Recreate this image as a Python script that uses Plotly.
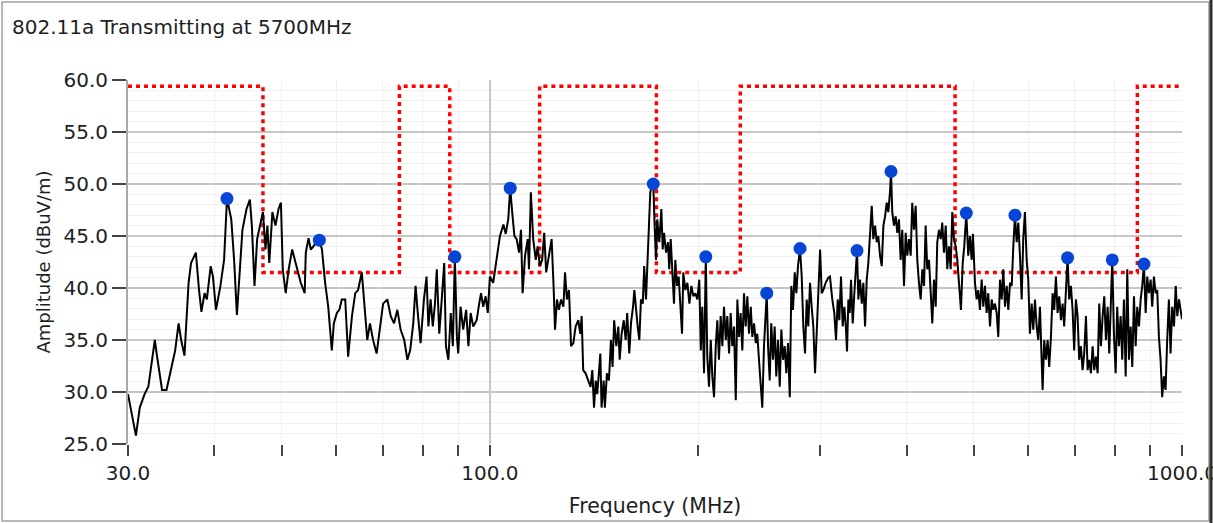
"""Radiated spurious emissions scan, 30 MHz - 1 GHz, 802.11a transmitter at 5700 MHz.

Black trace = measured amplitude, red dotted = limit line, blue dots = marked peaks.
"""
import math

import plotly.graph_objects as go

# ============================================================================
# DATA
# ============================================================================

TITLE = "802.11a Transmitting at 5700MHz"

FREQ_MHZ = [
    # 30 - 54 MHz
    30.0, 30.8, 31.2, 31.7, 32.1, 32.5, 32.8, 33.0, 33.3, 33.6,
    34.1, 34.5, 35.1, 35.5, 35.8, 36.2, 36.5, 36.7, 37.0, 37.6,
    38.0, 38.3, 38.7, 39.0, 39.5, 39.8, 40.2, 40.8, 41.3, 41.5,
    41.7, 42.3, 42.7, 43.1, 43.5, 43.9, 44.5, 45.0, 45.3, 45.7,
    46.1, 46.6, 47.0, 47.4, 47.7, 48.0, 48.5, 49.0, 49.5, 49.9,
    50.2, 50.7, 51.2, 51.8, 52.4, 53.3, 54.0,
    # 54 - 97 MHz
    54.2, 54.7, 55.1, 55.6, 56.2, 56.7, 57.2, 57.8, 58.4, 59.1,
    59.5, 60.1, 60.6, 61.1, 61.8, 62.4, 63.2, 63.9, 64.5, 65.3,
    66.0, 66.5, 67.1, 67.8, 68.6, 69.4, 70.1, 71.1, 71.9, 72.7,
    73.5, 74.3, 75.2, 76.0, 76.7, 77.5, 78.1, 78.6, 79.4, 80.3,
    81.0, 81.5, 82.1, 82.7, 83.3, 83.8, 84.5, 85.2, 85.9, 86.4,
    87.1, 87.8, 88.4, 89.0, 89.6, 90.0, 90.7, 91.5, 92.4, 93.1,
    93.8, 94.6, 95.7, 96.5,
    # 97 - 171 MHz
    97.1, 97.8, 98.6, 99.3, 100.0, 101.1, 102.3, 103.4, 104.6, 105.4,
    106.3, 107.0, 107.7, 108.5, 109.3, 110.2, 110.9, 111.5, 112.4, 113.4,
    113.9, 114.6, 115.5, 116.5, 117.2, 118.1, 119.0, 119.8, 120.6, 121.7,
    122.8, 123.6, 124.2, 125.0, 125.8, 126.7, 127.7, 128.4, 129.2, 130.1,
    131.0, 132.0, 133.0, 134.2, 135.1, 135.7, 136.4, 137.5, 138.7, 139.8,
    140.6, 141.4, 142.2, 142.9, 143.7, 144.4, 145.0, 146.0, 146.6, 147.6,
    148.6, 149.6, 150.4, 151.2, 152.3, 153.3, 154.0, 155.0, 156.1, 157.1,
    157.9, 159.0, 159.9, 161.0, 161.7, 162.6, 163.5, 164.4, 165.3, 166.3,
    167.1, 168.1, 169.0, 169.8, 170.5,
    # 171 - 308 MHz
    171.3, 172.2, 173.0, 173.8, 174.5, 175.7, 176.9, 177.7, 178.5, 179.7,
    180.9, 181.6, 182.5, 183.5, 184.5, 185.3, 186.4, 187.4, 188.4, 189.5,
    190.3, 191.6, 192.9, 194.2, 195.5, 196.8, 198.1, 199.4, 200.7, 201.7,
    202.7, 203.9, 205.1, 206.1, 207.3, 208.5, 209.6, 210.8, 212.0, 213.1,
    214.3, 215.5, 216.7, 217.9, 219.2, 220.3, 221.6, 222.8, 224.0, 225.3,
    226.6, 227.8, 229.1, 230.3, 231.6, 232.9, 234.2, 235.5, 236.8, 238.2,
    239.4, 240.8, 242.2, 243.4, 244.8, 246.2, 247.5, 248.9, 250.3, 251.2,
    252.3, 253.7, 255.0, 256.5, 257.9, 259.3, 260.8, 262.3, 263.7, 265.2,
    266.7, 268.1, 269.6, 271.2, 272.6, 274.1, 275.7, 277.2, 278.7, 280.6,
    282.2, 283.7, 285.3, 286.9, 288.4, 290.1, 291.7, 293.3, 295.0, 296.6,
    298.2, 300.0, 301.6, 303.2, 305.6, 308.3,
    # 310 - 543 MHz
    310.0, 312.4, 314.5, 316.3, 318.1, 319.8, 321.6, 323.4, 325.2, 327.0,
    328.1, 329.6, 331.1, 332.5, 334.4, 336.2, 338.1, 339.2, 340.7, 342.6,
    344.6, 346.4, 348.4, 350.3, 352.2, 354.2, 356.2, 358.1, 360.2, 362.2,
    364.1, 366.2, 368.3, 370.3, 372.4, 374.4, 376.4, 378.5, 379.8, 381.4,
    383.6, 385.8, 387.8, 390.0, 392.2, 394.3, 396.6, 398.8, 400.9, 403.2,
    405.5, 407.6, 410.0, 412.3, 414.5, 416.8, 419.2, 421.5, 423.9, 426.2,
    428.5, 431.0, 433.4, 435.7, 438.2, 440.7, 443.0, 445.5, 448.1, 450.4,
    453.0, 455.6, 458.0, 460.6, 463.2, 465.7, 468.3, 471.0, 473.5, 476.2,
    479.3, 482.1, 484.6, 487.9, 491.1, 493.9, 496.7, 498.8, 502.2, 505.0,
    507.7, 510.6, 513.5, 516.3, 519.2, 522.1, 524.9, 527.9, 530.9, 533.7,
    536.8, 539.8, 542.7,
    # 545 - 1000 MHz
    545.8, 548.9, 551.8, 555.0, 558.1, 561.1, 564.3, 567.5, 570.5, 573.7,
    576.9, 580.0, 583.3, 586.6, 589.7, 593.0, 596.4, 599.6, 603.0, 606.4,
    609.7, 613.1, 616.6, 619.9, 623.4, 626.9, 628.9, 632.3, 635.9, 639.5,
    642.9, 646.6, 650.2, 653.7, 657.4, 661.1, 664.7, 668.5, 672.2, 675.7,
    679.6, 683.4, 687.1, 691.0, 694.9, 698.6, 702.6, 706.6, 710.3, 714.4,
    718.4, 722.3, 726.5, 730.5, 734.5, 738.6, 742.8, 746.8, 751.0, 755.3,
    759.3, 763.6, 767.9, 772.1, 776.4, 780.8, 785.0, 789.4, 792.9, 797.3,
    801.9, 806.1, 810.7, 815.3, 819.7, 824.3, 829.1, 833.5, 838.2, 843.0,
    847.5, 852.3, 857.1, 861.7, 866.6, 871.5, 876.1, 881.0, 886.1, 890.8,
    895.8, 901.0, 905.7, 910.8, 916.0, 920.9, 926.1, 931.2, 936.2, 941.5,
    946.8, 951.9, 957.3, 962.7, 967.9, 973.7, 979.3, 984.5, 990.1, 996.7,
    1000.0,
]

AMPLITUDE_DBUV = [
    # 30 - 54 MHz
    29.8, 25.8, 28.5, 29.8, 30.5, 33.0, 35.0, 33.7, 31.8, 30.2,
    30.2, 31.8, 34.0, 36.6, 35.0, 33.5, 37.7, 40.5, 42.4, 43.4,
    39.8, 37.7, 39.5, 38.9, 42.1, 41.1, 37.9, 40.2, 42.7, 46.6,
    48.6, 46.6, 42.7, 37.4, 41.8, 45.6, 47.6, 48.5, 46.0, 40.2,
    44.7, 46.3, 47.3, 43.7, 46.0, 42.4, 47.3, 46.0, 47.6, 48.2,
    41.8, 39.5, 41.8, 43.7, 42.4, 40.5, 39.5,
    # 54 - 97 MHz
    43.4, 44.8, 43.7, 44.0, 44.5, 44.6, 43.7, 40.5, 38.2, 34.0,
    36.6, 37.6, 37.9, 38.9, 38.9, 33.4, 37.3, 39.5, 39.8, 41.5,
    37.6, 35.0, 36.6, 35.0, 33.7, 36.6, 38.5, 38.9, 37.3, 36.6,
    37.9, 36.0, 35.0, 33.1, 34.0, 36.6, 40.2, 37.9, 34.7, 38.9,
    41.1, 36.3, 38.9, 36.3, 38.5, 41.8, 35.6, 38.9, 42.4, 34.4,
    33.1, 37.6, 34.4, 43.0, 35.3, 33.7, 38.2, 36.0, 37.9, 34.4,
    37.6, 36.3, 36.9, 38.5,
    # 97 - 171 MHz
    39.5, 38.2, 39.2, 37.6, 41.1, 40.5, 43.1, 45.0, 46.1, 45.2,
    46.6, 49.6, 47.3, 45.0, 44.7, 43.4, 45.6, 39.5, 43.1, 44.7,
    41.8, 49.2, 44.7, 42.7, 44.0, 42.1, 42.7, 45.3, 41.5, 43.1,
    44.7, 40.2, 36.0, 38.9, 37.9, 38.9, 38.2, 41.5, 38.9, 39.8,
    34.4, 34.7, 36.3, 36.9, 35.6, 37.3, 32.1, 31.8, 31.1, 30.5,
    32.1, 28.5, 31.1, 29.8, 31.8, 33.7, 28.5, 31.1, 28.5, 31.8,
    31.1, 35.0, 32.4, 36.9, 34.4, 36.3, 33.1, 35.6, 36.9, 35.0,
    37.6, 33.7, 36.6, 38.2, 39.8, 37.6, 36.3, 35.0, 38.9, 38.5,
    42.1, 38.9, 42.7, 45.0, 49.2,
    # 171 - 308 MHz
    49.8, 50.0, 46.0, 42.7, 46.6, 44.4, 47.6, 43.7, 45.3, 43.4,
    44.4, 41.8, 44.7, 40.8, 38.5, 42.7, 40.2, 41.1, 38.9, 35.6,
    41.5, 39.8, 40.5, 38.5, 40.2, 39.2, 39.5, 38.9, 40.8, 34.0,
    38.2, 31.8, 43.0, 33.4, 30.5, 35.0, 31.5, 29.5, 34.4, 36.9,
    33.1, 37.3, 34.4, 38.2, 35.0, 37.3, 33.7, 37.6, 34.4, 36.3,
    29.2, 38.9, 35.3, 37.6, 34.0, 39.5, 36.3, 39.2, 35.6, 38.2,
    35.3, 36.6, 34.7, 35.6, 33.1, 30.5, 28.5, 34.4, 36.9, 39.5,
    34.4, 31.1, 36.6, 33.1, 36.3, 31.5, 35.0, 30.5, 36.0, 33.1,
    34.4, 31.8, 34.7, 29.5, 40.2, 37.9, 41.5, 39.5, 42.1, 43.8,
    41.1, 36.3, 33.7, 38.9, 36.3, 40.5, 38.2, 36.3, 31.8, 36.6,
    39.5, 43.7, 39.5, 39.8, 40.5, 41.0,
    # 310 - 543 MHz
    41.1, 38.9, 37.6, 35.0, 38.9, 36.9, 41.1, 36.3, 38.2, 36.0,
    33.9, 38.9, 37.6, 40.8, 36.6, 39.5, 41.8, 43.6, 38.9, 40.8,
    38.5, 40.5, 36.3, 40.8, 42.4, 45.0, 47.9, 44.7, 46.0, 44.4,
    45.0, 43.1, 42.1, 46.0, 46.9, 48.2, 47.3, 49.2, 51.2, 47.3,
    46.0, 46.9, 45.3, 46.6, 42.7, 45.6, 40.2, 45.3, 43.1, 44.7,
    43.1, 48.2, 45.6, 47.9, 42.7, 40.5, 38.9, 41.8, 40.2, 46.0,
    41.8, 42.7, 39.5, 36.6, 40.8, 38.2, 44.4, 45.6, 44.7, 46.3,
    43.4, 46.0, 41.8, 44.0, 41.8, 47.3, 44.7, 44.0, 42.7, 40.2,
    37.9, 42.4, 44.0, 47.2, 43.1, 45.0, 42.7, 45.2, 40.5, 38.9,
    39.8, 37.9, 40.8, 38.2, 40.2, 37.6, 39.5, 36.3, 38.9, 37.9,
    38.5, 37.6, 35.3,
    # 545 - 1000 MHz
    40.8, 38.9, 41.8, 38.2, 40.2, 37.9, 40.5, 40.2, 44.0, 47.0,
    44.4, 46.3, 43.1, 38.9, 44.7, 47.3, 42.7, 40.8, 35.6, 38.5,
    36.0, 38.9, 36.3, 35.0, 38.2, 33.1, 30.2, 35.0, 33.1, 35.0,
    32.4, 35.3, 39.5, 37.9, 41.1, 37.6, 39.2, 36.9, 38.5, 36.3,
    40.2, 42.9, 38.9, 40.2, 37.9, 34.0, 38.9, 37.3, 33.1, 34.4,
    32.1, 33.7, 37.3, 32.1, 33.1, 31.8, 34.4, 32.1, 33.4, 31.8,
    38.5, 34.4, 37.3, 39.2, 35.0, 38.2, 33.7, 39.5, 42.7, 35.6,
    31.8, 38.2, 34.4, 37.3, 33.1, 38.9, 31.5, 41.8, 33.1, 36.3,
    32.4, 39.2, 34.4, 38.2, 36.3, 38.9, 40.2, 42.3, 37.6, 41.1,
    39.5, 40.8, 38.2, 41.1, 39.5, 39.8, 35.3, 33.1, 29.5, 31.5,
    30.2, 35.0, 38.9, 33.7, 38.2, 36.3, 40.2, 37.3, 38.9, 37.6,
    37.0,
]

# marked peaks
PEAK_FREQ_MHZ = [41.7, 56.7, 89.0, 107.0, 172.2, 205.1, 251.2, 280.6,
                 339.2, 379.8, 487.9, 573.7, 683.4, 792.9, 881.0]
PEAK_DBUV = [48.6, 44.6, 43.0, 49.6, 50.0, 43.0, 39.5, 43.8,
             43.6, 51.2, 47.2, 47.0, 42.9, 42.7, 42.3]

# limit line: low level inside the 47-74, 87.5-118, 174-230, 470-862 MHz bands
LIMIT_FREQ_MHZ = [30, 47, 47, 74, 74, 87.5, 87.5, 118, 118,
                  174, 174, 230, 230, 470, 470, 862, 862, 1000]
LIMIT_DBUV = [59.4, 59.4, 41.5, 41.5, 59.4, 59.4, 41.5, 41.5, 59.4,
              59.4, 41.5, 41.5, 59.4, 59.4, 41.5, 41.5, 59.4, 59.4]

X_MAJOR = [30, 100, 1000]
X_MAJOR_TEXT = ["30.0", "100.0", "1000.0"]
X_MINOR = [40, 50, 60, 70, 80, 90, 200, 300, 400, 500, 600, 700, 800, 900]

# ============================================================================

FONT = "DejaVu Sans"
TEXT = "#1e1e1e"
GRID = "#c6c6c6"
FAINT = "#f0f0f0"


def build_figure():
    assert len(FREQ_MHZ) == len(AMPLITUDE_DBUV)
    fig = go.Figure()

    # --- limit line (red dotted) ---
    fig.add_trace(go.Scatter(x=LIMIT_FREQ_MHZ, y=LIMIT_DBUV, mode="lines",
                             line=dict(color="#ff0000", width=3.5, dash="4px,4px"),
                             hoverinfo="skip"))
    # --- measured trace ---
    fig.add_trace(go.Scatter(x=FREQ_MHZ, y=AMPLITUDE_DBUV, mode="lines",
                             line=dict(color="#000000", width=2)))
    # --- peak markers ---
    fig.add_trace(go.Scatter(x=PEAK_FREQ_MHZ, y=PEAK_DBUV, mode="markers",
                             marker=dict(color="#0645d6", size=13, line=dict(width=0))))

    fig.update_layout(
        width=1213, height=523,
        margin=dict(l=128, r=31, t=80, b=79, autoexpand=False),
        paper_bgcolor="white", plot_bgcolor="white",
        showlegend=False,
        font=dict(family=FONT, size=20, color=TEXT),
        title=dict(text=TITLE, x=12 / 1213, xanchor="left", xref="container",
                   y=1 - 27 / 523, yanchor="middle", automargin=False,
                   font=dict(family=FONT, size=20, color=TEXT)),
    )

    fig.update_xaxes(
        type="log", range=[math.log10(30), math.log10(1000)], automargin=False,
        tickmode="array", tickvals=X_MAJOR, ticktext=X_MAJOR_TEXT,
        ticklabeloverflow="allow",
        ticks="outside", ticklen=11, tickwidth=1.5, tickcolor="#444",
        showgrid=True, gridcolor=GRID, gridwidth=1.5,
        showline=False, zeroline=False,
        minor=dict(tickvals=X_MINOR, ticks="outside", ticklen=11, tickwidth=1.5,
                   tickcolor="#444", showgrid=True, gridcolor=FAINT, gridwidth=1),
        title=dict(text="Frequency (MHz)", standoff=14,
                   font=dict(family=FONT, size=20.5, color=TEXT)),
    )
    fig.update_yaxes(
        range=[25, 60], tickmode="linear", tick0=25, dtick=5, tickformat=".1f",
        automargin=False,
        ticks="outside", ticklen=14, tickwidth=1.5, tickcolor="#444",
        showgrid=True, gridcolor=GRID, gridwidth=1.5,
        showline=True, linecolor="#a8a8a8", linewidth=2, zeroline=False,
        minor=dict(dtick=1, showgrid=True, gridcolor=FAINT, gridwidth=1, ticks=""),
        title=dict(text="Amplitude (dBuV/m)", standoff=8,
                   font=dict(family=FONT, size=18, color=TEXT)),
    )

    # window frame around the whole chart, darker on the right edge
    fig.add_shape(type="rect", xref="paper", yref="paper",
                  x0=-0.1195, x1=1.0256, y0=-0.2115, y1=1.2143,
                  line=dict(color="#a0a0a0", width=1.5), layer="above")
    fig.add_shape(type="line", xref="paper", yref="paper",
                  x0=1.0275, x1=1.0275, y0=-0.22, y1=1.22,
                  line=dict(color="#303030", width=3), layer="above")
    return fig


if __name__ == "__main__":
    # the page's default 8px body margin would push the chart off the window
    build_figure().write_html(
        "out.html", config={"displayModeBar": False},
        post_script="document.body.style.margin = '0';")
